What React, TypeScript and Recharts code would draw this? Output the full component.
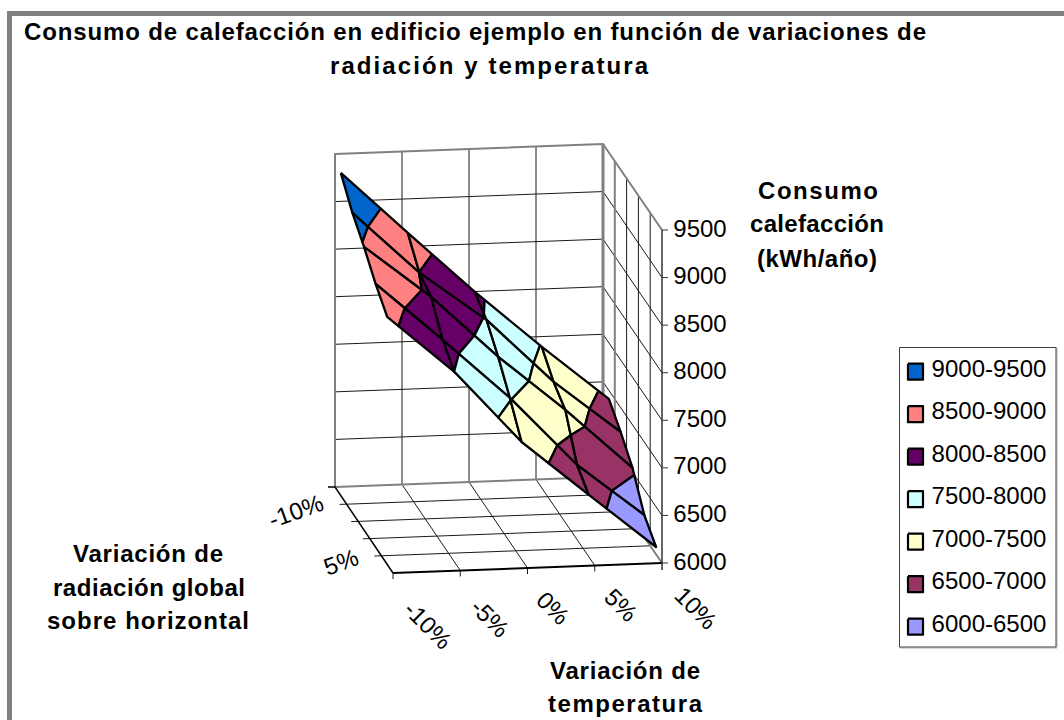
import { Scatter, ScatterChart, XAxis, YAxis } from "recharts";

// Consumo (kWh/año): one array per radiation step, one value per temperature step
const temperatureLabels = ["-10%", "-5%", "0%", "5%", "10%"];
const radiationLabels = ["-10%", "-5%", "0%", "5%", "10%"];
const consumoRadM10 = [9392, 8735, 8088, 7484, 6911];
const consumoRadM5 = [9152, 8495, 7975, 7297, 6744];
const consumoRad0 = [8976, 8424, 7767, 7183, 6547];
const consumoRad5 = [8768, 8152, 7516, 6785, 6233];
const consumoRad10 = [8601, 7997, 7234, 6651, 6078];
const consumo = [consumoRadM10, consumoRadM5, consumoRad0, consumoRad5, consumoRad10];

const zTicks = [6000, 6500, 7000, 7500, 8000, 8500, 9000, 9500];
const bandNames = ["9000-9500", "8500-9000", "8000-8500", "7500-8000", "7000-7500", "6500-7000", "6000-6500"];
const bandFrom = [9000, 8500, 8000, 7500, 7000, 6500, 6000];
const bandColors = ["#0066CC", "#FF8080", "#660066", "#CCFFFF", "#FFFFCC", "#993366", "#9999FF"];

const WIDTH = 1064;
const HEIGHT = 720;
const FONT = "'Liberation Sans', Arial, sans-serif";
const GRAY = "#808080";
const INK = "#1a1a1a";

// floor corners of the 3D box on the page, and pixels per kWh
const BACK_L = [335, 487];
const BACK_R = [603, 477];
const FRONT_L = [393, 573];
const FRONT_R = [662, 563];
const Z_PX = 333 / 3500;

type Pt = { x: number; y: number };
type Vtx = { t: number; s: number; z: number };

function project(t: number, s: number, z = 6000): Pt {
  const bx = BACK_L[0] + (BACK_R[0] - BACK_L[0]) * t;
  const by = BACK_L[1] + (BACK_R[1] - BACK_L[1]) * t;
  const fx = FRONT_L[0] + (FRONT_R[0] - FRONT_L[0]) * t;
  const fy = FRONT_L[1] + (FRONT_R[1] - FRONT_L[1]) * t;
  return { x: bx + (fx - bx) * s, y: by + (fy - by) * s - (z - 6000) * Z_PX };
}

function clip(poly: Vtx[], level: number, keepAbove: boolean) {
  const out: Vtx[] = [];
  const inside = (v: Vtx) => (keepAbove ? v.z >= level : v.z <= level);
  poly.forEach((a, i) => {
    const b = poly[(i + 1) % poly.length];
    if (inside(a)) out.push(a);
    if (inside(a) !== inside(b)) {
      const k = (level - a.z) / (b.z - a.z);
      out.push({ t: a.t + (b.t - a.t) * k, s: a.s + (b.s - a.s) * k, z: level });
    }
  });
  return out;
}

function surfacePolys() {
  const polys: { pts: Pt[]; fill: string }[] = [];
  for (let r = 0; r < consumo.length - 1; r++) {
    for (let c = 0; c < temperatureLabels.length - 1; c++) {
      const at = (cc: number, rr: number): Vtx => ({
        t: cc / (temperatureLabels.length - 1),
        s: 0.1 + (rr * 0.8) / (consumo.length - 1),
        z: consumo[rr][cc],
      });
      const quad = [at(c, r), at(c + 1, r), at(c + 1, r + 1), at(c, r + 1)];
      bandFrom.forEach((lo, b) => {
        const part = clip(clip(quad, lo, true), lo + 500, false);
        if (part.length > 2) {
          const pts = part.map((v) => project(v.t, v.s, v.z));
          polys.push({ pts: [...pts, pts[0]], fill: bandColors[b] });
        }
      });
    }
  }
  return polys;
}

function seg(key: string, pts: Pt[], stroke: string, width: number, fill = "none") {
  return (
    <Scatter
      key={key}
      data={pts}
      isAnimationActive={false}
      shape={() => <g />}
      line={{ stroke, strokeWidth: width, fill, strokeLinejoin: "round" }}
      lineType="joint"
    />
  );
}

type Label = {
  x: number;
  y: number;
  text: string;
  size?: number;
  bold?: boolean;
  rotate?: number;
  fit?: number;
};

const titleLabels: Label[] = [
  { x: 475, y: 31, text: "Consumo de calefacción en edificio ejemplo en función de variaciones de", bold: true, fit: 902 },
  { x: 489, y: 65, text: "radiación y temperatura", bold: true, fit: 318 },
  { x: 818, y: 190, text: "Consumo", bold: true, fit: 120 },
  { x: 817, y: 223, text: "calefacción", bold: true, fit: 134 },
  { x: 817, y: 258, text: "(kWh/año)", bold: true, fit: 120 },
  { x: 148, y: 553, text: "Variación de", bold: true, fit: 150 },
  { x: 149, y: 587, text: "radiación global", bold: true, fit: 192 },
  { x: 148, y: 620, text: "sobre horizontal", bold: true, fit: 202 },
  { x: 625, y: 670, text: "Variación de", bold: true, fit: 150 },
  { x: 625, y: 703, text: "temperatura", bold: true, fit: 154 },
];

const tempLabelPos = [
  [428, 625],
  [490, 618],
  [553, 608],
  [621, 605],
  [696, 608],
];
const radLabelPos: Record<number, number[]> = { 0: [296, 511], 3: [341, 562] };

function allLabels(): Label[] {
  const out: Label[] = [...titleLabels];
  temperatureLabels.forEach((text, i) => {
    out.push({ x: tempLabelPos[i][0], y: tempLabelPos[i][1], text, rotate: 45 });
  });
  radiationLabels.forEach((text, i) => {
    if (radLabelPos[i]) out.push({ x: radLabelPos[i][0], y: radLabelPos[i][1], text, rotate: -20 });
  });
  zTicks.forEach((v) => {
    out.push({ x: 700, y: 563 - (v - 6000) * Z_PX - 2, text: String(v) });
  });
  bandNames.forEach((text, i) => {
    out.push({ x: 989, y: 368 + i * 42.5, text });
  });
  return out;
}

function LabelShape(props: any) {
  const p: Label = props.payload;
  return (
    <text
      x={props.cx}
      y={props.cy}
      textAnchor="middle"
      dominantBaseline="central"
      fontFamily={FONT}
      fontSize={p.size ?? 24}
      fontWeight={p.bold ? 700 : 400}
      fill="#000"
      textLength={p.fit}
      lengthAdjust={p.fit ? "spacing" : undefined}
      transform={p.rotate ? `rotate(${p.rotate} ${props.cx} ${props.cy})` : undefined}
    >
      {p.text}
    </text>
  );
}

function boxLines() {
  const lines: JSX.Element[] = [];
  const n = temperatureLabels.length - 1;
  const rows = consumo.length;
  // back wall and right wall levels
  zTicks.slice(1, -1).forEach((v) => {
    lines.push(seg(`lv${v}`, [project(0, 0, v), project(1, 0, v), project(1, 1, v)], INK, 1));
  });
  for (let c = 1; c < n; c++) {
    lines.push(seg(`bw${c}`, [project(c / n, 0, 9500), project(c / n, 0)], INK, 1));
    const front = project(c / n, 1);
    lines.push(seg(`fl${c}`, [project(c / n, 0), front, { x: front.x, y: front.y + 6 }], INK, 1));
  }
  for (let r = 1; r < rows; r++) {
    const left = project(0, r / rows);
    lines.push(seg(`rw${r}`, [project(1, r / rows, 9500), project(1, r / rows)], r === 1 ? GRAY : INK, r === 1 ? 2 : 1));
    lines.push(seg(`ro${r}`, [{ x: left.x - 7, y: left.y + 0.2 }, left, project(1, r / rows)], INK, 1));
  }
  // thick gray outline of the walls
  lines.push(
    seg("wall", [project(0, 0), project(0, 0, 9500), project(1, 0, 9500), project(1, 1, 9500)], GRAY, 2),
    seg("wall2", [project(0, 0), project(1, 0), project(1, 1)], GRAY, 2),
    seg("wall3", [project(1, 0, 9500), project(1, 0)], GRAY, 3),
    seg("edgeL", [{ x: BACK_L[0] - 7, y: BACK_L[1] }, project(0, 0), project(0, 1)], "#000", 1.5),
    seg("edgeF", [project(0, 1), project(1, 1)], "#000", 2),
    seg("tickF", [project(0, 1), { x: FRONT_L[0], y: FRONT_L[1] + 6 }], INK, 1),
    seg("zaxis", [project(1, 1, 9500), { x: FRONT_R[0], y: FRONT_R[1] + 7 }], "#333", 1.5),
  );
  zTicks.forEach((v) => {
    const o = project(1, 1, v);
    lines.push(seg(`zt${v}`, [o, { x: o.x + 6, y: o.y }], "#333", 1));
  });
  return lines;
}

function legendMarks() {
  const rect = (x0: number, y0: number, x1: number, y1: number): Pt[] => [
    { x: x0, y: y0 },
    { x: x1, y: y0 },
    { x: x1, y: y1 },
    { x: x0, y: y1 },
    { x: x0, y: y0 },
  ];
  return [
    seg("lgs", rect(900, 348, 1057, 648), "#b0b0b0", 1),
    seg("lgb", rect(899.5, 347.5, 1056, 647), "#404040", 1, "#fff"),
    ...bandColors.map((fill, i) => {
      const cy = 371.7 + i * 42.5;
      return seg(`sw${i}`, rect(908, cy - 8, 923, cy + 8), "#000", 2.2, fill);
    }),
  ];
}

export default function App() {
  return (
    <div style={{ position: "absolute", left: 0, top: 0, width: WIDTH, height: HEIGHT, background: "#fff", overflow: "hidden" }}>
      <div
        style={{
          position: "absolute",
          left: 7,
          top: 11,
          width: WIDTH - 7,
          height: HEIGHT - 11,
          boxSizing: "border-box",
          borderTop: `5px solid ${GRAY}`,
          borderLeft: `5px solid ${GRAY}`,
        }}
      />
      <div style={{ position: "absolute", left: 0, top: 0 }}>
        <ScatterChart width={WIDTH} height={HEIGHT} margin={{ top: 0, right: 0, bottom: 0, left: 0 }}>
          <XAxis type="number" dataKey="x" domain={[0, WIDTH]} hide />
          <YAxis type="number" dataKey="y" domain={[0, HEIGHT]} reversed hide />
          {boxLines()}
          {surfacePolys().map((p, i) => seg(`cell${i}`, p.pts, "#000", 2.3, p.fill))}
          {legendMarks()}
          <Scatter data={allLabels()} isAnimationActive={false} shape={LabelShape} />
        </ScatterChart>
      </div>
    </div>
  );
}
